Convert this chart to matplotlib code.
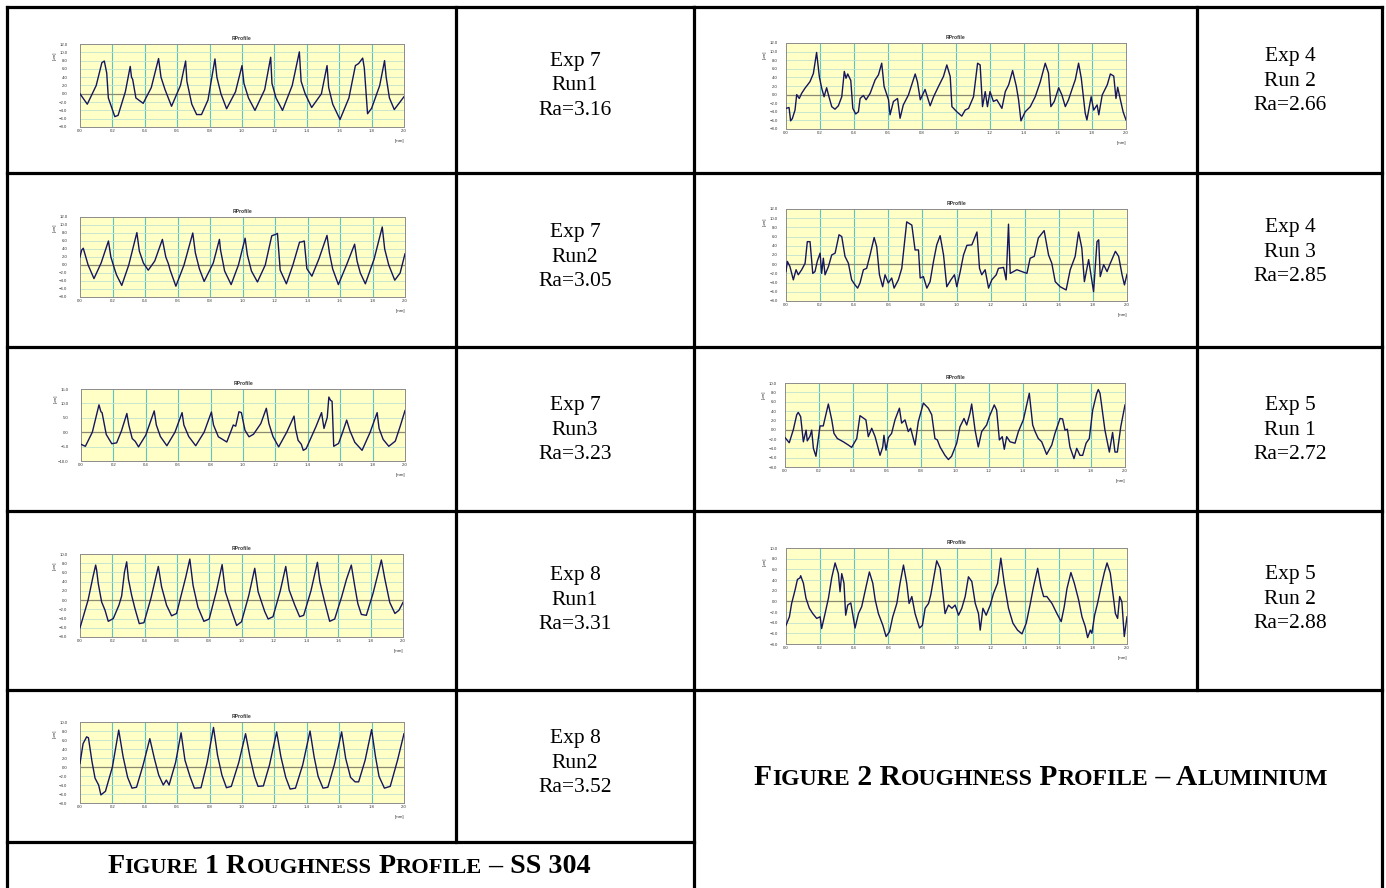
import numpy as np
import matplotlib
matplotlib.use("Agg")
import matplotlib.pyplot as plt
from matplotlib.offsetbox import TextArea, HPacker, AnnotationBbox

W, H = 1386, 888

# roughness profiles: (x [mm], y [um])
exp7_run1 = [(0.00, 0.0), (0.045, -2.5), (0.10, 2.0), (0.135, 7.5), (0.15, 7.9), (0.165, 5.0), (0.175, -1.0),
             (0.215, -5.5), (0.235, -5.2), (0.28, 0.5), (0.31, 6.6), (0.318, 4.0), (0.325, 3.5), (0.345, -1.0),
             (0.39, -2.3), (0.44, 1.5), (0.485, 8.5), (0.50, 4.0), (0.525, 1.0), (0.565, -3.0), (0.62, 2.0),
             (0.652, 7.9), (0.66, 3.0), (0.69, -2.5), (0.72, -5.0), (0.75, -5.0), (0.79, -1.5), (0.833, 8.4),
             (0.845, 4.0), (0.87, 0.0), (0.905, -3.6), (0.96, 0.5), (1.00, 6.8), (1.012, 2.5), (1.04, -1.0),
             (1.08, -4.0), (1.14, 1.0), (1.177, 8.8), (1.185, 2.5), (1.21, -1.0), (1.25, -4.0), (1.31, 2.0),
             (1.354, 10.1), (1.365, 3.0), (1.39, 0.0), (1.43, -3.3), (1.49, 0.0), (1.525, 6.8), (1.535, 1.5),
             (1.56, -2.5), (1.605, -6.2), (1.66, -1.0), (1.70, 6.8), (1.72, 7.3), (1.745, 8.6), (1.755, 6.2),
             (1.775, -4.8), (1.80, -3.5), (1.85, 2.0), (1.88, 8.0), (1.89, 4.0), (1.91, -1.0), (1.94, -3.8),
             (2.00, -0.7)]
exp7_run2 = [(0.0, 2.0), (0.01, 3.7), (0.02, 4.2), (0.05, 0.0), (0.086, -3.4), (0.13, 0.5), (0.175, 6.0),
             (0.19, 2.0), (0.215, -1.3), (0.225, -2.5), (0.257, -5.1), (0.30, 0.0), (0.35, 8.1), (0.365, 3.5),
             (0.39, 0.5), (0.42, -1.3), (0.46, 1.0), (0.507, 6.4), (0.528, 2.0), (0.544, 0.3), (0.555, -1.3),
             (0.59, -5.3), (0.64, 0.0), (0.694, 8.0), (0.71, 3.0), (0.735, -1.0), (0.764, -4.1), (0.82, 0.5),
             (0.858, 6.4), (0.865, 3.7), (0.89, -1.5), (0.93, -4.9), (0.975, 0.0), (1.016, 6.7), (1.03, 2.5),
             (1.055, -1.5), (1.092, -4.25), (1.14, 0.0), (1.18, 7.3), (1.20, 7.6), (1.215, 7.9), (1.232, -1.3),
             (1.27, -4.7), (1.31, 0.0), (1.351, 5.7), (1.366, 5.8), (1.38, 6.0), (1.396, -0.9), (1.427, -2.8),
             (1.47, 1.5), (1.52, 7.4), (1.535, 3.0), (1.555, -1.0), (1.59, -4.9), (1.64, 0.0), (1.69, 5.2),
             (1.705, 1.0), (1.725, -2.0), (1.756, -4.7), (1.81, 1.5), (1.86, 9.5), (1.875, 4.0), (1.90, 0.0),
             (1.937, -3.8), (1.97, -2.0), (2.0, 2.8)]
exp7_run3 = [(0.0, -4.2), (0.027, -4.9), (0.07, 0.0), (0.111, 9.5), (0.123, 7.1), (0.13, 6.8), (0.156, -0.8),
             (0.19, -4.0), (0.22, -3.7), (0.25, 0.5), (0.283, 6.5), (0.295, 2.5), (0.316, -2.2), (0.335, -3.2),
             (0.355, -5.1), (0.40, -1.0), (0.452, 7.4), (0.465, 2.5), (0.49, -1.5), (0.53, -4.7), (0.58, 0.0),
             (0.624, 6.8), (0.635, 2.5), (0.665, -1.5), (0.708, -4.7), (0.76, 0.0), (0.805, 7.0), (0.818, 2.5),
             (0.848, -1.6), (0.90, -3.4), (0.94, 2.5), (0.955, 2.1), (0.975, 7.1), (0.99, 6.8), (1.012, 0.7),
             (1.037, -1.6), (1.065, -0.7), (1.11, 3.0), (1.144, 8.3), (1.16, 3.0), (1.185, -1.5), (1.22, -5.1),
             (1.27, 0.0), (1.315, 5.6), (1.325, 1.0), (1.34, -2.8), (1.36, -4.2), (1.372, -6.3), (1.39, -5.7),
             (1.45, 1.9), (1.485, 6.8), (1.50, 1.3), (1.52, 5.1), (1.53, 12.2), (1.54, 11.1), (1.55, 10.7),
             (1.56, -4.9), (1.59, -3.9), (1.615, 0.0), (1.64, 4.2), (1.66, 0.5), (1.69, -3.5), (1.735, -6.3),
             (1.785, 0.0), (1.828, 6.8), (1.84, 1.3), (1.865, -2.5), (1.90, -4.9), (1.94, -3.1), (1.97, 2.0),
             (2.0, 7.5)]
exp8_run1 = [(0.0, -6.0), (0.05, 0.0), (0.08, 5.0), (0.097, 7.6), (0.103, 6.5), (0.113, 3.6), (0.134, -0.4),
             (0.155, -2.2), (0.175, -4.6), (0.206, -4.0), (0.241, -1.1), (0.258, 0.9), (0.275, 6.0), (0.289, 8.3),
             (0.30, 4.5), (0.32, 1.0), (0.34, -1.8), (0.367, -5.1), (0.396, -4.9), (0.44, 0.5), (0.485, 7.3),
             (0.505, 2.9), (0.536, -1.1), (0.567, -3.4), (0.598, -2.9), (0.629, 1.4), (0.655, 5.0), (0.68, 8.9),
             (0.70, 3.2), (0.73, -1.5), (0.767, -4.6), (0.80, -4.1), (0.845, 2.0), (0.88, 7.7), (0.90, 1.8),
             (0.94, -2.5), (0.97, -5.5), (1.0, -4.7), (1.045, 1.0), (1.082, 6.9), (1.103, 1.8), (1.144, -2.5),
             (1.165, -4.1), (1.195, -3.6), (1.24, 2.0), (1.274, 7.3), (1.295, 2.2), (1.33, -1.1), (1.36, -3.6),
             (1.385, -3.3), (1.43, 2.0), (1.47, 8.2), (1.485, 4.0), (1.515, -0.4), (1.546, -4.6), (1.577, -4.1),
             (1.62, 0.7), (1.65, 4.5), (1.68, 7.6), (1.70, 3.3), (1.72, -0.7), (1.742, -3.1), (1.773, -3.3),
             (1.814, 1.4), (1.84, 5.0), (1.866, 8.7), (1.887, 4.7), (1.918, -0.5), (1.95, -2.9), (1.975, -2.2),
             (2.0, -0.5)]
exp8_run2 = [(0.0, 0.8), (0.019, 5.2), (0.041, 6.7), (0.052, 6.5), (0.074, 1.2), (0.093, -2.5), (0.115, -4.0),
             (0.129, -6.2), (0.157, -5.4), (0.20, 0.0), (0.239, 8.2), (0.266, 2.3), (0.294, -2.3), (0.321, -4.7),
             (0.349, -4.5), (0.39, 0.5), (0.431, 6.3), (0.459, 1.9), (0.486, -1.8), (0.514, -4.0), (0.533, -2.9),
             (0.55, -4.0), (0.59, 1.0), (0.624, 7.6), (0.648, 1.5), (0.679, -2.1), (0.706, -4.7), (0.747, -4.6),
             (0.785, 1.0), (0.824, 8.8), (0.849, 2.6), (0.876, -1.8), (0.904, -4.6), (0.934, -4.3), (0.98, 1.0),
             (1.022, 7.4), (1.049, 2.3), (1.077, -2.1), (1.099, -4.3), (1.132, -4.2), (1.17, 0.5), (1.214, 7.8),
             (1.24, 2.3), (1.27, -2.3), (1.297, -4.9), (1.33, -4.7), (1.375, 0.5), (1.42, 8.0), (1.445, 2.3),
             (1.47, -2.1), (1.50, -4.7), (1.53, -4.5), (1.57, 0.5), (1.615, 7.8), (1.64, 1.9), (1.67, -2.3),
             (1.698, -3.3), (1.72, -3.3), (1.76, 1.5), (1.80, 8.3), (1.824, 2.3), (1.846, -2.1), (1.879, -4.7),
             (1.915, -4.3), (1.96, 1.5), (2.0, 7.4)]

exp4_run2 = [(0.0, -3.2), (0.018, -3.0), (0.027, -6.1), (0.037, -5.6), (0.053, -3.6), (0.063, 0.0), (0.078, -0.9),
             (0.092, 0.3), (0.112, 1.5), (0.141, 3.0), (0.161, 4.9), (0.18, 9.8), (0.196, 4.2), (0.21, 1.5),
             (0.224, -0.5), (0.239, 1.6), (0.25, -0.1), (0.269, -2.8), (0.288, -3.4), (0.308, -2.6), (0.328, -0.5),
             (0.343, 5.4), (0.353, 3.8), (0.363, 4.8), (0.381, 3.3), (0.393, -3.2), (0.41, -4.5), (0.426, -4.0),
             (0.436, -0.9), (0.455, -0.2), (0.471, -1.2), (0.495, 0.3), (0.524, 3.4), (0.544, 4.6), (0.563, 7.3),
             (0.577, 1.9), (0.603, -1.2), (0.612, -4.7), (0.632, -1.6), (0.656, -0.9), (0.671, -5.5), (0.69, -2.4),
             (0.72, -0.1), (0.76, 4.8), (0.773, 3.0), (0.79, -1.2), (0.818, 1.2), (0.848, -2.6), (0.868, -0.5),
             (0.897, 1.9), (0.926, 4.2), (0.946, 6.9), (0.966, 4.2), (0.976, -2.8), (1.005, -4.0), (1.034, -5.0),
             (1.054, -3.6), (1.074, -3.2), (1.103, -0.5), (1.127, 7.3), (1.142, 6.9), (1.156, -2.8), (1.172, 0.7),
             (1.185, -2.8), (1.20, 0.7), (1.22, -1.6), (1.24, -1.2), (1.27, -3.2), (1.29, 0.7), (1.31, 2.3),
             (1.333, 5.6), (1.355, 1.9), (1.368, -1.2), (1.382, -6.1), (1.407, -4.0), (1.437, -2.8), (1.466, -0.5),
             (1.496, 3.0), (1.525, 7.3), (1.544, 5.0), (1.558, -2.8), (1.578, -1.6), (1.604, 1.6), (1.623, -0.1),
             (1.643, -2.8), (1.662, -1.2), (1.682, 1.2), (1.702, 3.5), (1.721, 7.3), (1.737, 3.8), (1.76, -4.3),
             (1.77, -5.9), (1.795, -0.5), (1.81, -3.6), (1.83, -2.4), (1.84, -4.7), (1.86, -0.1), (1.89, 2.3),
             (1.908, 4.8), (1.928, 4.3), (1.941, -0.9), (1.951, 1.7), (1.967, -1.2), (1.983, -4.0), (2.0, -5.9)]
exp4_run3 = [(0.0, -1.6), (0.008, 0.6), (0.023, -0.5), (0.043, -3.4), (0.059, -1.2), (0.072, -2.3), (0.092, -1.2),
             (0.112, 0.2), (0.125, 4.9), (0.141, 4.9), (0.157, -2.0), (0.17, -1.6), (0.184, 0.7), (0.20, 2.4),
             (0.209, -2.0), (0.219, 1.3), (0.229, -2.3), (0.249, -0.5), (0.268, 2.0), (0.288, 2.4), (0.311, 6.4),
             (0.327, 6.0), (0.346, 1.7), (0.366, 0.2), (0.385, -3.4), (0.405, -4.5), (0.42, -5.2), (0.434, -4.1),
             (0.454, -1.2), (0.473, -0.9), (0.493, 2.0), (0.517, 5.8), (0.532, 3.8), (0.548, -2.3), (0.567, -4.9),
             (0.581, -2.3), (0.60, -4.1), (0.62, -3.0), (0.634, -5.2), (0.659, -3.4), (0.679, -0.9), (0.708, 9.2),
             (0.738, 8.5), (0.757, 3.1), (0.777, 3.1), (0.787, -3.0), (0.806, -2.7), (0.826, -5.2), (0.845, -3.8),
             (0.865, 0.6), (0.884, 4.2), (0.904, 6.2), (0.924, 2.0), (0.943, -4.9), (0.967, -3.4), (0.988, -2.3),
             (1.002, -4.9), (1.022, -1.6), (1.041, 2.0), (1.061, 4.1), (1.09, 4.2), (1.12, 7.0), (1.135, -0.9),
             (1.148, -2.3), (1.168, -1.2), (1.188, -5.2), (1.207, -3.4), (1.233, -2.3), (1.246, -0.9), (1.276, -0.7),
             (1.291, -3.4), (1.305, 8.7), (1.315, -2.0), (1.354, -1.2), (1.383, -1.6), (1.413, -2.0), (1.432, 1.3),
             (1.456, 1.7), (1.48, 5.7), (1.514, 7.3), (1.54, 2.0), (1.559, 0.2), (1.579, -3.8), (1.608, -4.9),
             (1.643, -5.6), (1.667, -1.2), (1.696, 1.7), (1.716, 7.0), (1.735, 3.5), (1.75, -3.8), (1.775, 1.0),
             (1.804, -6.0), (1.824, 4.9), (1.834, 5.3), (1.843, -2.7), (1.863, -0.1), (1.883, -1.6), (1.902, 0.2),
             (1.932, 2.8), (1.951, 1.7), (1.971, -2.3), (1.985, -4.5), (2.0, -2.2)]
exp5_run1 = [(0.0, -1.7), (0.025, -2.8), (0.049, 0.0), (0.069, 3.2), (0.078, 3.7), (0.092, 2.8), (0.108, -2.6),
             (0.124, -0.1), (0.131, -2.4), (0.147, -1.4), (0.157, -0.1), (0.167, -4.0), (0.182, -5.7), (0.196, -1.9),
             (0.206, 0.8), (0.225, 0.8), (0.255, 5.5), (0.275, 2.1), (0.288, -0.8), (0.308, -1.9), (0.343, -2.6),
             (0.373, -3.3), (0.392, -3.8), (0.422, -1.9), (0.441, 3.0), (0.476, 2.1), (0.49, -1.5), (0.51, 0.3),
             (0.53, -1.5), (0.559, -5.5), (0.575, -3.7), (0.582, -1.2), (0.594, -4.4), (0.608, -1.7), (0.627, -0.8),
             (0.647, 2.1), (0.673, 4.6), (0.686, 1.4), (0.706, 2.1), (0.725, -0.4), (0.739, 0.3), (0.765, -3.3),
             (0.784, 1.7), (0.814, 5.7), (0.843, 4.6), (0.863, 3.2), (0.882, -1.9), (0.896, -2.2), (0.912, -3.7),
             (0.941, -5.5), (0.961, -6.4), (0.98, -5.7), (1.01, -2.9), (1.029, 0.6), (1.053, 2.4), (1.069, 1.0),
             (1.088, 3.5), (1.098, 5.5), (1.118, -0.1), (1.137, -3.7), (1.157, -0.4), (1.186, 1.0), (1.202, 2.8),
             (1.231, 5.3), (1.245, 4.2), (1.261, -2.2), (1.278, -1.5), (1.29, -4.2), (1.304, -1.5), (1.324, -2.6),
             (1.353, -2.9), (1.373, -0.4), (1.402, 2.1), (1.437, 7.8), (1.457, 1.0), (1.471, -0.4), (1.49, -1.9),
             (1.51, -2.6), (1.539, -5.3), (1.569, -3.3), (1.588, -0.8), (1.618, 2.4), (1.633, 2.3), (1.647, -0.1),
             (1.661, 0.1), (1.676, -3.7), (1.70, -6.2), (1.716, -4.0), (1.735, -5.5), (1.751, -5.5), (1.771, -2.9),
             (1.79, -1.9), (1.81, 4.2), (1.833, 7.7), (1.843, 8.6), (1.853, 7.8), (1.882, -0.1), (1.908, -4.8),
             (1.927, -0.6), (1.941, -4.8), (1.955, -4.8), (1.975, 0.6), (2.0, 5.3)]
exp5_run2 = [(0.0, -4.5), (0.02, -2.9), (0.033, -0.4), (0.053, 2.1), (0.067, 4.1), (0.082, 4.4), (0.086, 4.8),
             (0.102, 3.4), (0.117, 0.6), (0.137, -1.3), (0.157, -2.3), (0.18, -3.2), (0.20, -2.9), (0.209, -5.1),
             (0.229, -2.3), (0.249, 0.6), (0.268, 4.4), (0.288, 7.2), (0.307, 5.2), (0.317, 1.8), (0.327, 5.2),
             (0.34, 3.4), (0.35, -2.6), (0.362, -0.7), (0.38, -0.3), (0.405, -5.0), (0.425, -2.3), (0.444, -1.0),
             (0.47, 2.8), (0.489, 5.5), (0.509, 3.4), (0.523, 0.3), (0.542, -2.3), (0.568, -4.5), (0.587, -6.6),
             (0.607, -5.7), (0.626, -2.9), (0.65, -0.4), (0.669, 3.4), (0.689, 6.8), (0.708, 3.4), (0.722, -0.4),
             (0.738, 0.9), (0.757, -2.3), (0.783, -5.0), (0.80, -4.5), (0.816, -1.3), (0.836, -0.4), (0.849, 1.2),
             (0.884, 7.6), (0.904, 6.2), (0.92, 1.5), (0.933, -2.3), (0.953, -0.7), (0.973, -1.3), (0.992, -0.7),
             (1.012, -2.6), (1.031, -1.3), (1.051, 0.9), (1.07, 4.6), (1.09, 3.7), (1.11, -0.4), (1.129, -2.3),
             (1.139, -5.4), (1.155, -1.3), (1.174, -2.6), (1.198, -0.7), (1.217, 1.5), (1.241, 3.4), (1.26, 8.1),
             (1.28, 3.4), (1.305, -1.3), (1.331, -4.1), (1.358, -5.4), (1.384, -6.1), (1.409, -4.1), (1.433, -0.4),
             (1.452, 2.8), (1.476, 6.2), (1.495, 2.8), (1.511, 0.9), (1.53, 0.9), (1.56, -0.4), (1.589, -2.3),
             (1.614, -3.8), (1.632, -1.0), (1.648, 2.4), (1.671, 5.4), (1.691, 3.4), (1.716, 0.3), (1.736, -2.9),
             (1.755, -4.7), (1.769, -6.8), (1.785, -5.4), (1.794, -6.0), (1.81, -2.6), (1.827, -0.4), (1.847, 2.6),
             (1.867, 5.4), (1.883, 7.2), (1.902, 5.3), (1.922, 0.3), (1.932, -2.3), (1.945, -3.2), (1.957, 0.9),
             (1.97, -0.1), (1.984, -6.6), (2.0, -2.9)]

# y-axis range (min, max, step) of every chart
yrange_ss = [(-8, 12, 2), (-8, 12, 2), (-10, 15, 5), (-8, 10, 2), (-8, 10, 2)]
yrange_al = [(-8, 12, 2), (-8, 12, 2), (-8, 10, 2), (-8, 10, 2)]

labels_ss = ["Exp 7\nRun1\nRa=3.16", "Exp 7\nRun2\nRa=3.05", "Exp 7\nRun3\nRa=3.23",
             "Exp 8\nRun1\nRa=3.31", "Exp 8\nRun2\nRa=3.52"]
labels_al = ["Exp 4\nRun 2\nRa=2.66", "Exp 4\nRun 3\nRa=2.85", "Exp 5\nRun 1\nRa=2.72", "Exp 5\nRun 2\nRa=2.88"]

caption_ss = "Figure 1 Roughness Profile – SS 304"
caption_al = "Figure 2 Roughness Profile – Aluminium"

profiles_ss = [exp7_run1, exp7_run2, exp7_run3, exp8_run1, exp8_run2]
profiles_al = [exp4_run2, exp4_run3, exp5_run1, exp5_run2]

# layout in pixels
boxes_ss = [(80, 44, 404, 127), (80, 217, 405, 297), (81, 389, 405, 461), (80, 554, 403, 637), (80, 722, 404, 803)]
boxes_al = [(786, 43, 1126, 129), (786, 209, 1127, 301), (785, 383, 1125, 467), (786, 548, 1127, 644)]
text_y_ss = [86, 257, 430, 600, 763]
text_y_al = [81, 252, 430, 599]

fig = plt.figure(figsize=(W / 100, H / 100), dpi=100)
bg = fig.add_axes([0, 0, 1, 1])
bg.set_xlim(0, W)
bg.set_ylim(H, 0)
bg.axis("off")

LW = 2.3


def seg(x0, y0, x1, y1):
    bg.plot([x0, x1], [y0, y1], color="black", lw=LW, solid_capstyle="projecting")


# left table
for yy in [7, 173, 347, 511, 690, 842]:
    seg(7, yy, 694, yy)
seg(7, 7, 7, 890)
seg(456, 7, 456, 842)
seg(694, 7, 694, 890)
# right table
for yy in [7, 173, 347, 511, 690]:
    seg(694, yy, 1382, yy)
seg(1197, 7, 1197, 690)
seg(1382, 7, 1382, 890)


def profile_chart(box, pts, yr, ypad):
    x0, y0, x1, y1 = box
    ax = fig.add_axes([x0 / W, 1 - y1 / H, (x1 - x0) / W, (y1 - y0) / H])
    ax.set_facecolor("#ffffc6")
    ymin, ymax, ystep = yr
    yt = np.arange(ymin, ymax + ystep / 2, ystep)
    xt = np.linspace(0, 2, 11)
    ax.set_xlim(0, 2)
    ax.set_ylim(ymin, ymax)
    ax.set_xticks(xt)
    ax.set_yticks(yt)
    ax.xaxis.set_major_formatter("{x:.1f}")
    ax.yaxis.set_major_formatter("{x:.1f}")
    for v in xt[1:-1]:
        ax.axvline(v, color="#5cc6c6", lw=0.8, zorder=1)
    for v in yt[1:-1]:
        ax.axhline(v, color="#bfe3cf", lw=0.6, zorder=1)
    ax.axhline(0, color="#8a8a72", lw=0.9, zorder=2)
    xs, ys = zip(*pts)
    ax.plot(xs, ys, color="#16165e", lw=1.0, zorder=3)
    for s in ax.spines.values():
        s.set_color("#8c8c8c")
        s.set_linewidth(0.7)
    ax.tick_params(length=0, labelsize=3.1, labelcolor="#333333", pad=1.2)
    ax.tick_params(axis="y", pad=ypad)
    for t in ax.get_xticklabels() + ax.get_yticklabels():
        t.set_family("Liberation Sans")
    ax.set_title("RProfile", fontsize=3.6, fontweight="bold", pad=3, family="Liberation Sans", color="#333333")
    ax.text(-(ypad * 1.39 + 13) / (x1 - x0), 0.86, "[µm]", rotation=90, transform=ax.transAxes,
            ha="center", va="center", fontsize=3.2, color="#333333", family="Liberation Sans")
    ax.text(1.0, -14 / (y1 - y0), "[mm]", transform=ax.transAxes, ha="right", va="center",
            fontsize=3.2, color="#333333", family="Liberation Sans")


for box, pts, yr in zip(boxes_ss, profiles_ss, yrange_ss):
    profile_chart(box, pts, yr, 9)
for box, pts, yr in zip(boxes_al, profiles_al, yrange_al):
    profile_chart(box, pts, yr, 6)

for lab, ty in zip(labels_ss, text_y_ss):
    bg.text(575, ty, lab, ha="center", va="center", fontsize=15.5, family="Liberation Serif", linespacing=1.38)
for lab, ty in zip(labels_al, text_y_al):
    bg.text(1290, ty, lab, ha="center", va="center", fontsize=15.5, family="Liberation Serif", linespacing=1.38)


def small_caps(text, x, y, big, small):
    runs = []
    for ch in text:
        sm = ch.islower()
        if runs and runs[-1][1] == sm:
            runs[-1][0] += ch
        else:
            runs.append([ch, sm])
    parts = [TextArea(s.upper() if sm else s,
                      textprops=dict(fontsize=small if sm else big, fontweight="bold",
                                     family="Liberation Serif"))
             for s, sm in runs]
    pack = HPacker(children=parts, align="baseline", pad=0, sep=0)
    ab = AnnotationBbox(pack, (x, y), xycoords="data", frameon=False, box_alignment=(0.5, 0.5), pad=0)
    bg.add_artist(ab)


small_caps(caption_ss, 349, 866, 20.2, 16.2)
small_caps(caption_al, 1041, 777, 21.2, 17.1)

fig.savefig("out.png", dpi=100)
